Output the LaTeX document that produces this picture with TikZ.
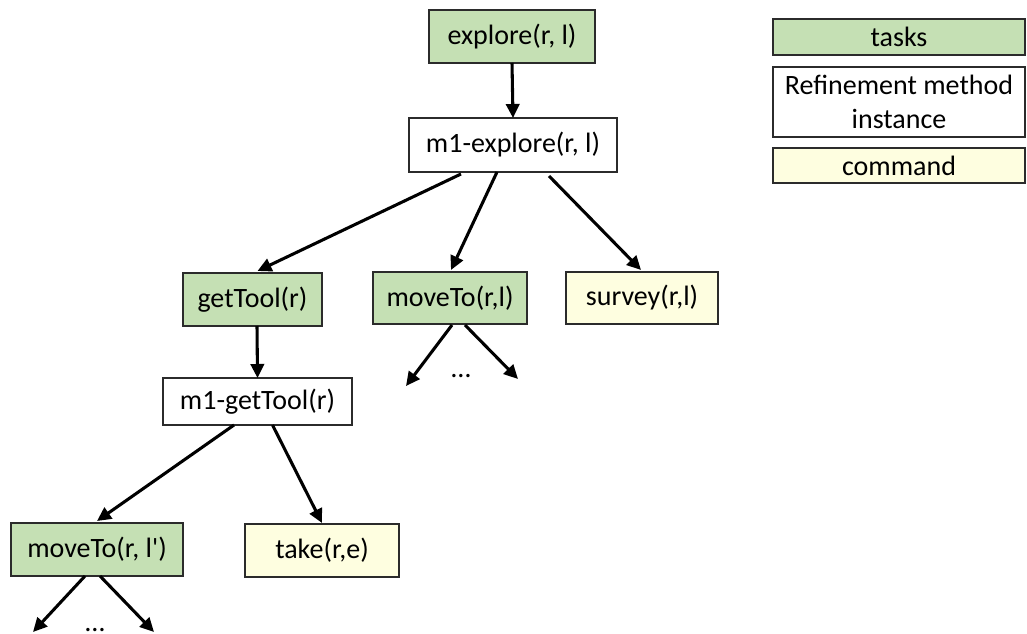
\documentclass[tikz,border=0pt]{standalone}
\usepackage{fontspec}
\setmainfont{Carlito}
\usetikzlibrary{arrows.meta,calc}
\definecolor{taskgreen}{HTML}{C5E0B4}
\definecolor{cmdyellow}{HTML}{FEFEE0}
\definecolor{boxline}{HTML}{2B2B2B}
\tikzset{
  box/.style={draw=boxline, line width=0.9pt, inner sep=0pt, outer sep=0pt,
    font=\fontsize{21}{25.5}\selectfont, align=center},
  taskbox/.style={box, fill=taskgreen},
  methbox/.style={box, fill=white},
  cmdbox/.style={box, fill=cmdyellow},
  conn/.style={line width=2.3pt, -{Triangle[length=10.5pt,width=10pt]}},
  dotsnode/.style={inner sep=0pt, font=\fontsize{21}{24}\selectfont}
}
\begin{document}
\begin{tikzpicture}[x=0.75pt,y=-0.75pt]
\useasboundingbox (0,0) rectangle (1027,634);
\fill[white] (0,0) rectangle (1027,634);

% tree nodes
\node[taskbox, minimum width={166*0.75pt}, minimum height={53*0.75pt}] (explore) at (512,36.5) {explore(r, l)};
\node[methbox, minimum width={208*0.75pt}, minimum height={54*0.75pt}] (m1e) at (513,145) {m1-explore(r, l)};
\node[taskbox, minimum width={139*0.75pt}, minimum height={53*0.75pt}] (gettool) at (252.5,299.5) {getTool(r)};
\node[taskbox, minimum width={154*0.75pt}, minimum height={52*0.75pt}] (moveto1) at (450,298) {moveTo(r,l)};
\node[cmdbox, minimum width={152*0.75pt}, minimum height={52*0.75pt}] (survey) at (642,298) {survey(r,l)};
\node[methbox, minimum width={189*0.75pt}, minimum height={47*0.75pt}] (m1g) at (257.5,401.5) {m1-getTool(r)};
\node[taskbox, minimum width={172*0.75pt}, minimum height={53*0.75pt}] (moveto2) at (97,549.5) {moveTo(r, l\textquotesingle)};
\node[cmdbox, minimum width={154*0.75pt}, minimum height={53*0.75pt}] (take) at (322,550.5) {take(r,e)};

% legend
\node[taskbox, minimum width={252*0.75pt}, minimum height={36*0.75pt}] (lgtask) at (899,37) {tasks};
\node[methbox, minimum width={252*0.75pt}, minimum height={70*0.75pt}] (lgmeth) at (899,102) {Refinement method\\instance};
\node[cmdbox, minimum width={252*0.75pt}, minimum height={35*0.75pt}] (lgcmd) at (899,165.5) {command};

% dots
\node[dotsnode] (dots1) at (461,376) {…};
\node[dotsnode] (dots2) at (95,630) {…};

% free ends
\coordinate (e1) at (406,386);
\coordinate (e2) at (518,379);
\coordinate (e3) at (33,632);
\coordinate (e4) at (154,632);

% connectors
\draw[conn] (explore.south) -- (m1e.north);
\draw[conn] ($(m1e.south)+(-52,2)$) -- ($(gettool.north)+(5,-2)$);
\draw[conn] ($(m1e.south)+(-16,0)$) -- ($(moveto1.north)+(1,-2)$);
\draw[conn] ($(m1e.south)+(36,4)$) -- ($(survey.north)+(-1,-2)$);
\draw[conn] ($(gettool.south)+(4.5,0)$) -- (m1g.north);
\draw[conn] ($(moveto1.south)+(2,1)$) -- (e1);
\draw[conn] ($(moveto1.south)+(15,1)$) -- (e2);
\draw[conn] ($(m1g.south)+(-23.5,0)$) -- ($(moveto2.north)+(0,-2)$);
\draw[conn] ($(m1g.south)+(15,0)$) -- ($(take.north)+(0,-1)$);
\draw[conn] ($(moveto2.south)+(-12,0)$) -- (e3);
\draw[conn] ($(moveto2.south)+(3,0)$) -- (e4);
\end{tikzpicture}
\end{document}
